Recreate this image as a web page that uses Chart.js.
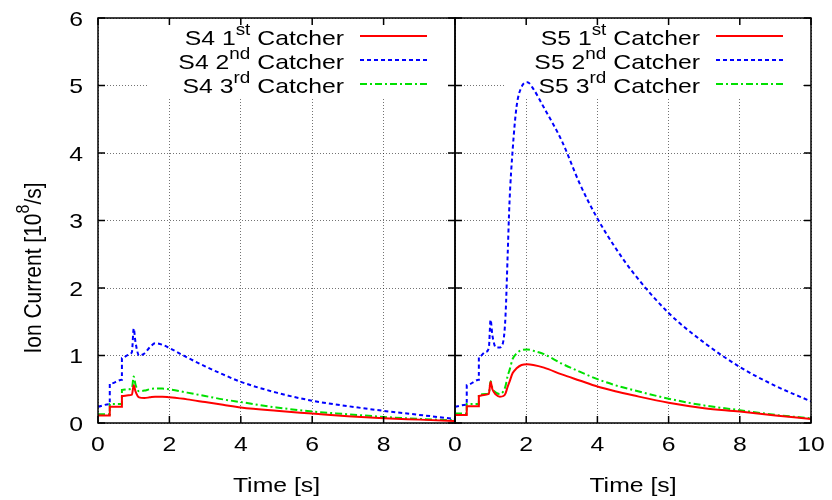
<!DOCTYPE html>
<html>
<head>
<meta charset="utf-8">
<title>Ion Current</title>
<script src="https://cdn.jsdelivr.net/npm/chart.js@4.4.1/dist/chart.umd.min.js"></script>
<style>
  html, body { margin: 0; padding: 0; background: #fff; }
  #wrap { position: relative; width: 832px; height: 500px; overflow: hidden; }
  canvas { position: absolute; top: 0; }
  #leftChart { left: 0; }
  #rightChart { left: 430px; }
</style>
</head>
<body>
<div id="wrap">
  <canvas id="leftChart" width="457" height="500"></canvas>
  <canvas id="rightChart" width="402" height="500"></canvas>
</div>
<script>
// Data (time in s, current in 10^8/s)
const s4Time   = [0, 0.33, 0.33, 0.67, 0.67, 0.85, 0.95, 1.0, 1.05, 1.15, 1.3, 1.45, 1.6, 1.8, 2.0, 2.5, 3, 3.5, 4, 5, 6, 7, 8, 9, 10];
const s4First  = [0.11, 0.11, 0.24, 0.24, 0.40, 0.41, 0.42, 0.56, 0.47, 0.38, 0.37, 0.38, 0.39, 0.39, 0.38, 0.35, 0.31, 0.27, 0.23, 0.18, 0.14, 0.10, 0.07, 0.05, 0.03];
const s4Second = [0.24, 0.28, 0.58, 0.64, 0.96, 1.01, 1.05, 1.40, 1.20, 1.00, 1.03, 1.12, 1.18, 1.16, 1.11, 0.97, 0.84, 0.72, 0.61, 0.45, 0.33, 0.25, 0.18, 0.12, 0.06];
const s4Third  = [0.13, 0.13, 0.28, 0.28, 0.49, 0.50, 0.51, 0.69, 0.57, 0.47, 0.48, 0.50, 0.51, 0.51, 0.50, 0.45, 0.40, 0.35, 0.31, 0.23, 0.17, 0.13, 0.09, 0.06, 0.04];

const s5Time   = [0, 0.33, 0.33, 0.67, 0.67, 0.85, 0.95, 1.0, 1.05, 1.15, 1.26, 1.36, 1.42, 1.48, 1.53, 1.62, 1.73, 1.87, 2.03, 2.2, 2.5, 3, 3.5, 4, 4.5, 5, 6, 7, 8, 9, 10];
const s5First  = [0.12, 0.12, 0.25, 0.25, 0.40, 0.42, 0.43, 0.61, 0.50, 0.42, 0.39, 0.40, 0.44, 0.54, 0.61, 0.74, 0.81, 0.86, 0.87, 0.86, 0.82, 0.72, 0.63, 0.54, 0.47, 0.41, 0.30, 0.22, 0.17, 0.11, 0.06];
const s5Second = [0.24, 0.27, 0.56, 0.64, 0.98, 1.05, 1.11, 1.53, 1.30, 1.12, 1.12, 1.22, 1.6, 2.5, 3.26, 4.05, 4.69, 4.98, 5.05, 4.95, 4.67, 4.18, 3.55, 3.03, 2.60, 2.23, 1.63, 1.19, 0.83, 0.55, 0.32];
const s5Third  = [0.14, 0.14, 0.28, 0.28, 0.42, 0.43, 0.44, 0.62, 0.52, 0.45, 0.43, 0.47, 0.55, 0.70, 0.78, 0.95, 1.03, 1.08, 1.09, 1.07, 1.02, 0.88, 0.76, 0.65, 0.56, 0.49, 0.36, 0.26, 0.19, 0.12, 0.07];

// Tick values
const s4XTicks = [0, 2, 4, 6, 8];
const s5XTicks = [0, 2, 4, 6, 8, 10];
const yTicks = [0, 1, 2, 3, 4, 5, 6];

// Legend labels: [text, superscript, text]
const s4Labels = [['S4 1', 'st', ' Catcher'], ['S4 2', 'nd', ' Catcher'], ['S4 3', 'rd', ' Catcher']];
const s5Labels = [['S5 1', 'st', ' Catcher'], ['S5 2', 'nd', ' Catcher'], ['S5 3', 'rd', ' Catcher']];

const xTitle = 'Time [s]';
const yTitle = ['Ion Current [10', '8', '/s]'];

// Styles
const FONT = '"Liberation Sans", Arial, Helvetica, sans-serif';
const FONT_SIZE = 21;
const SUP_SIZE = 16;
const STRETCH = 1.18;   // the picture's text is a bit wider than it is tall
const lineStyles = [
  { color: '#ff0000', dash: [] },
  { color: '#0000ff', dash: [4, 3] },
  { color: '#00e000', dash: [7, 3, 2, 3] }
];
const gridColor = 'rgba(0, 0, 0, 0.55)';

// Build datasets for one panel
function makeDatasets(times, seriesList) {
  return seriesList.map(function(values, i) {
    return {
      data: times.map(function(t, k) { return { x: t, y: values[k] }; }),
      borderColor: lineStyles[i].color,
      borderDash: lineStyles[i].dash,
      borderWidth: 2,
      pointRadius: 0,
      fill: false,
      cubicInterpolationMode: 'monotone'
    };
  });
}

// Plain text, horizontally stretched
function drawText(ctx, text, x, y, align) {
  ctx.save();
  ctx.translate(x, y);
  ctx.scale(STRETCH, 1);
  ctx.font = FONT_SIZE + 'px ' + FONT;
  ctx.textAlign = align;
  ctx.textBaseline = 'alphabetic';
  ctx.fillText(text, 0, 0);
  ctx.restore();
}

// Width (unstretched) of text with superscript
function supTextWidth(ctx, parts) {
  ctx.font = FONT_SIZE + 'px ' + FONT;
  const w = ctx.measureText(parts[0]).width + ctx.measureText(parts[2]).width;
  ctx.font = SUP_SIZE + 'px ' + FONT;
  return w + ctx.measureText(parts[1]).width;
}

// Text with raised superscript, in current transform, starting at 0
function drawSupParts(ctx, parts) {
  let x = 0;
  ctx.textAlign = 'left';
  ctx.textBaseline = 'alphabetic';
  ctx.font = FONT_SIZE + 'px ' + FONT;
  ctx.fillText(parts[0], x, 0);
  x += ctx.measureText(parts[0]).width;
  ctx.font = SUP_SIZE + 'px ' + FONT;
  ctx.fillText(parts[1], x, -10);
  x += ctx.measureText(parts[1]).width;
  ctx.font = FONT_SIZE + 'px ' + FONT;
  ctx.fillText(parts[2], x, 0);
}

// Legend box, frame, inward ticks, tick labels and titles
function makeDecor(labels, isLeft) {
  return {
    id: 'panelDecor',
    beforeDatasetsDraw: function(chart) {
      const ctx = chart.ctx;
      const area = chart.chartArea;
      ctx.save();
      ctx.fillStyle = '#fff';
      ctx.fillRect(area.right - 307, area.top + 1, 299, 79);
      ctx.fillStyle = '#000';
      labels.forEach(function(parts, i) {
        const base = area.top + 27 + i * 24;
        const w = supTextWidth(ctx, parts) * STRETCH;
        ctx.save();
        ctx.translate(area.right - 111 - w, base);
        ctx.scale(STRETCH, 1);
        drawSupParts(ctx, parts);
        ctx.restore();
        ctx.beginPath();
        ctx.strokeStyle = lineStyles[i].color;
        ctx.lineWidth = 2;
        ctx.setLineDash(lineStyles[i].dash);
        ctx.moveTo(area.right - 95, base - 9);
        ctx.lineTo(area.right - 28, base - 9);
        ctx.stroke();
      });
      ctx.restore();
    },
    afterDraw: function(chart) {
      const ctx = chart.ctx;
      const area = chart.chartArea;
      const xs = chart.scales.x;
      const ys = chart.scales.y;
      const tick = 7;
      ctx.save();
      ctx.strokeStyle = '#000';
      ctx.lineWidth = 1.5;
      ctx.setLineDash([]);
      ctx.strokeRect(area.left, area.top, area.right - area.left, area.bottom - area.top);
      ctx.beginPath();
      xs.ticks.forEach(function(t) {
        const px = xs.getPixelForValue(t.value);
        ctx.moveTo(px, area.bottom); ctx.lineTo(px, area.bottom - tick);
        ctx.moveTo(px, area.top); ctx.lineTo(px, area.top + tick);
      });
      ys.ticks.forEach(function(t) {
        const py = ys.getPixelForValue(t.value);
        ctx.moveTo(area.left, py); ctx.lineTo(area.left + tick, py);
        ctx.moveTo(area.right, py); ctx.lineTo(area.right - tick, py);
      });
      ctx.stroke();

      // tick labels
      ctx.fillStyle = '#000';
      xs.ticks.forEach(function(t) {
        drawText(ctx, String(t.value), xs.getPixelForValue(t.value), area.bottom + 28, 'center');
      });
      drawText(ctx, xTitle, (area.left + area.right) / 2, 492, 'center');

      if (isLeft) {
        ys.ticks.forEach(function(t) {
          drawText(ctx, String(t.value), area.left - 15, ys.getPixelForValue(t.value) + 7.5, 'right');
        });
        const w = supTextWidth(ctx, yTitle);
        ctx.save();
        ctx.translate(41, 268);
        ctx.rotate(-Math.PI / 2);
        ctx.scale(1, STRETCH);
        ctx.translate(-w / 2, 0);
        drawSupParts(ctx, yTitle);
        ctx.restore();
      }
      ctx.restore();
    }
  };
}

// Create one panel
function makePanel(canvasId, times, seriesList, xTicks, labels, isLeft) {
  const ctx = document.getElementById(canvasId).getContext('2d');
  return new Chart(ctx, {
    type: 'line',
    data: { datasets: makeDatasets(times, seriesList) },
    options: {
      responsive: false,
      animation: false,
      devicePixelRatio: 1,
      layout: {
        padding: isLeft ? { top: 18, right: 2, left: 0, bottom: 0 } : { top: 18, right: 21, left: 25, bottom: 0 }
      },
      plugins: {
        legend: { display: false },
        tooltip: { enabled: false }
      },
      scales: {
        x: {
          type: 'linear',
          min: 0,
          max: 10,
          afterBuildTicks: function(s) { s.ticks = xTicks.map(function(v) { return { value: v }; }); },
          afterFit: function(s) { s.height = 77; },
          ticks: { display: false },
          grid: { color: gridColor, lineWidth: 1, drawTicks: false },
          border: { display: false, dash: [1, 2] }
        },
        y: {
          type: 'linear',
          min: 0,
          max: 6,
          afterBuildTicks: function(s) { s.ticks = yTicks.map(function(v) { return { value: v }; }); },
          afterFit: function(s) { s.width = isLeft ? 98 : 0; },
          ticks: { display: false },
          grid: { color: gridColor, lineWidth: 1, drawTicks: false },
          border: { display: false, dash: [1, 2] }
        }
      }
    },
    plugins: [makeDecor(labels, isLeft)]
  });
}

makePanel('leftChart', s4Time, [s4First, s4Second, s4Third], s4XTicks, s4Labels, true);
makePanel('rightChart', s5Time, [s5First, s5Second, s5Third], s5XTicks, s5Labels, false);
</script>
</body>
</html>
